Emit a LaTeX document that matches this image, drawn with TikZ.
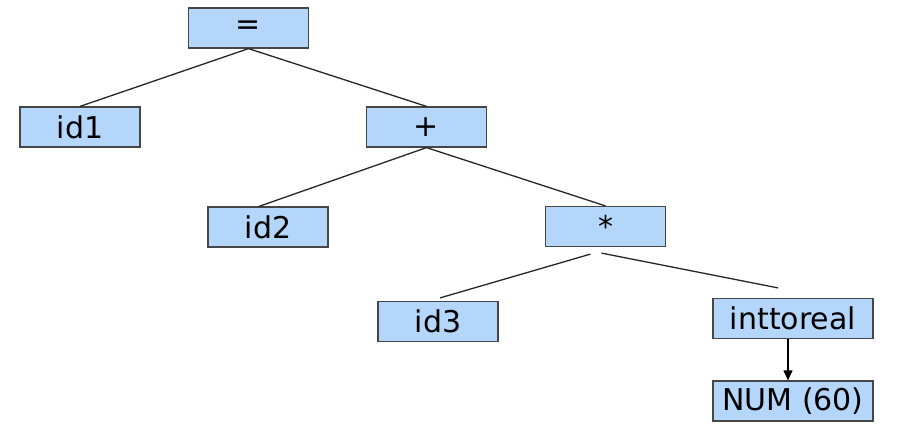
\documentclass[tikz,border=0pt]{standalone}
\usepackage{fontspec}
\setmainfont{DejaVu Sans}
\usetikzlibrary{calc,arrows.meta}
\definecolor{boxfill}{RGB}{180,214,250}
\definecolor{boxline}{RGB}{70,70,70}
\tikzset{
  treebox/.style={draw=boxline, fill=boxfill, line width=1.2pt, minimum height=40pt, inner sep=0pt,
    font=\fontsize{30}{30}\selectfont, text=black},
  wbox/.style={treebox, minimum width=120pt},
  widebox/.style={treebox, minimum width=160pt},
  edge/.style={line width=1.3pt, black!85}
}
\begin{document}
\begin{tikzpicture}[x=1pt,y=-1pt]
\useasboundingbox (0,0) rectangle (902,434);
\node[wbox] (eq) at (248.5,28) {=};
\node[wbox] (id1) at (80,127) {id1};
\node[wbox] (plus) at (426.5,127) {+};
\node[wbox] (id2) at (268,227) {id2};
\node[wbox] (star) at (605.5,226.5) {*};
\node[wbox] (id3) at (438,321.5) {id3};
\node[widebox] (itr) at (793,318.5) {inttoreal};
\node[widebox] (num) at (793,401) {NUM (60)};
\coordinate (id2top) at ($(id2.north)+(-9,0)$);
\coordinate (sl) at ($(star.south)+(-15,7)$);
\coordinate (sr) at ($(star.south)+(-4,6)$);
\coordinate (id3top) at ($(id3.north)+(2,-3)$);
\coordinate (itrtop) at ($(itr.north)+(-15,-10)$);
\draw[edge] (eq.south) -- (id1.north);
\draw[edge] (eq.south) -- (plus.north);
\draw[edge] (plus.south) -- (id2top);
\draw[edge] (plus.south) -- (star.north);
\draw[edge] (sl) -- (id3top);
\draw[edge] (sr) -- (itrtop);
\draw[line width=1.1pt, -{Triangle[length=10pt,width=9pt]}] ($(itr.south)+(-5,0)$) -- ($(num.north)+(-5,0)$);
\end{tikzpicture}
\end{document}
